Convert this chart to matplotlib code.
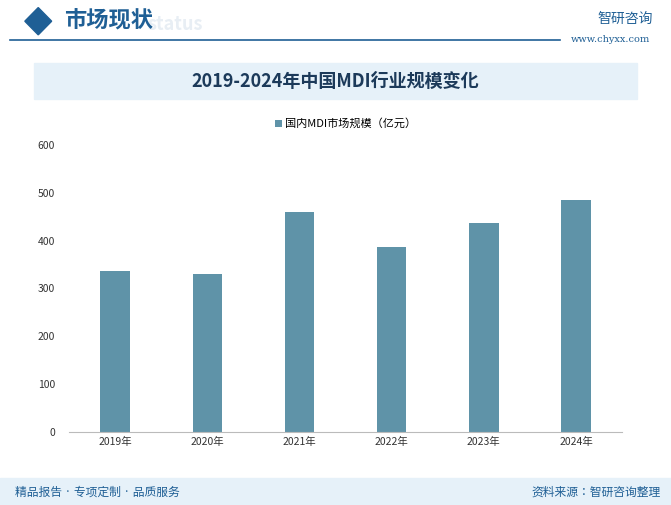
import matplotlib.pyplot as plt
from matplotlib.patches import Rectangle, Polygon
from matplotlib import font_manager

names = {f.name for f in font_manager.fontManager.ttflist}
cjk = [n for n in ['Noto Sans CJK SC', 'Noto Sans CJK JP', 'Noto Sans CJK TC', 'Noto Sans CJK KR'] if n in names]
plt.rcParams['font.family'] = 'sans-serif'
plt.rcParams['font.sans-serif'] = cjk + ['DejaVu Sans']

years = ['2019年', '2020年', '2021年', '2022年', '2023年', '2024年']
values = [337, 331, 459, 387, 437, 484]
yticks = [0, 100, 200, 300, 400, 500, 600]

fig = plt.figure(figsize=(6.71, 5.05), dpi=100)

# header
fig.patches.append(Polygon([[0.037, 0.958], [0.057, 0.985], [0.077, 0.958], [0.057, 0.931]],
                           closed=True, transform=fig.transFigure, color='#1f5f95'))
fig.text(0.22, 0.952, 'status', fontsize=13, fontweight='bold', color='#e8eef4', va='center')
fig.text(0.095, 0.958, '市场现状', fontsize=16, fontweight='bold', color='#1f5f95', va='center')
fig.add_artist(plt.Line2D([0.015, 0.835], [0.921, 0.921], color='#1f5f95', lw=1.2))
fig.text(0.89, 0.962, '智研咨询', fontsize=10, color='#1f5f95', va='center')
fig.text(0.85, 0.922, 'www.chyxx.com', fontsize=7, color='#1f5f95', va='center', family='DejaVu Serif')

# title band
fig.patches.append(Rectangle((0.05, 0.803), 0.90, 0.072, transform=fig.transFigure,
                             color='#e6f1f9', zorder=0))
fig.text(0.5, 0.838, '2019-2024年中国MDI行业规模变化', fontsize=13, fontweight='bold',
         color='#1c3a5a', ha='center', va='center')

# footer
fig.patches.append(Rectangle((0, 0), 1, 0.053, transform=fig.transFigure, color='#e6f1f9', zorder=0))
fig.text(0.022, 0.026, '精品报告 · 专项定制 · 品质服务', fontsize=8.5, color='#1f5f95', va='center')
fig.text(0.985, 0.026, '资料来源：智研咨询整理', fontsize=8.5, color='#1f5f95', va='center', ha='right')

ax = fig.add_axes([0.103, 0.1446, 0.824, 0.5684])
x = range(len(years))
ax.bar(x, values, width=0.32, color='#5f93a8', label='国内MDI市场规模（亿元）')
ax.set_xlim(-0.5, len(years) - 0.5)
ax.set_ylim(0, 600)
ax.set_yticks(yticks)
ax.set_xticks(list(x))
ax.set_xticklabels(years)
ax.tick_params(axis='both', length=0, labelsize=7.5, colors='#333333')
ax.tick_params(axis='y', pad=10)
for s in ['top', 'right', 'left']:
    ax.spines[s].set_visible(False)
ax.spines['bottom'].set_color('#bbbbbb')
ax.legend(loc='lower center', bbox_to_anchor=(0.5, 1.02), frameon=False, fontsize=8,
          handlelength=0.6, handleheight=0.6, handletextpad=0.3)

fig.savefig('out.png', dpi=100)
